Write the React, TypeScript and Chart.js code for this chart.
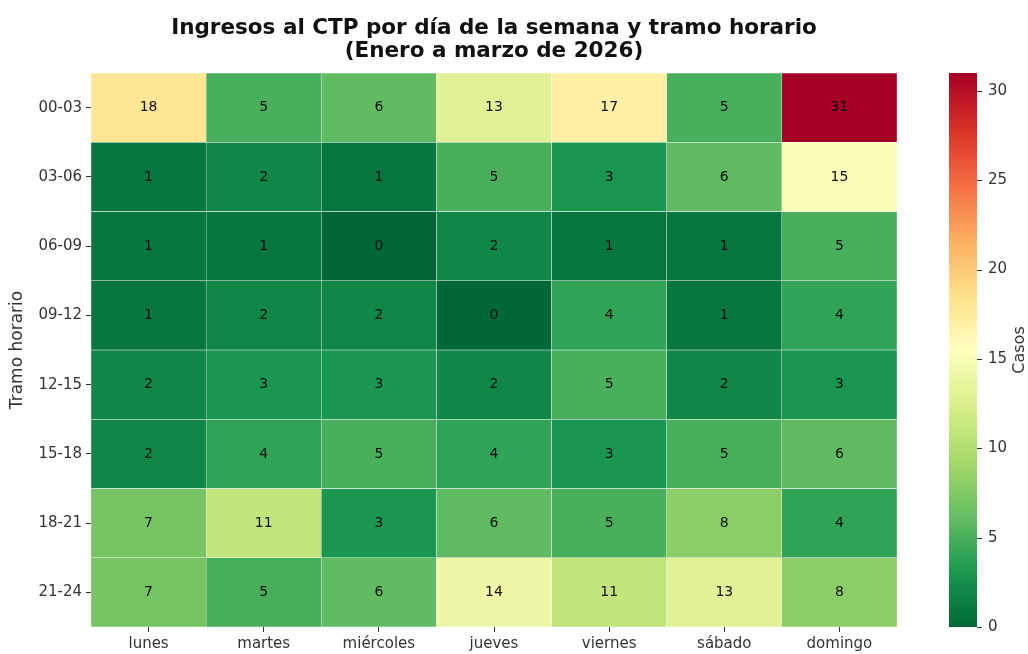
import React, { useEffect, useRef } from "react";
import { Chart, registerables } from "chart.js";

Chart.register(...registerables);

// ---- Data ----
const days = ["lunes", "martes", "miércoles", "jueves", "viernes", "sábado", "domingo"];
const slots = ["00-03", "03-06", "06-09", "09-12", "12-15", "15-18", "18-21", "21-24"];

const row0003 = [18, 5, 6, 13, 17, 5, 31];
const row0306 = [1, 2, 1, 5, 3, 6, 15];
const row0609 = [1, 1, 0, 2, 1, 1, 5];
const row0912 = [1, 2, 2, 0, 4, 1, 4];
const row1215 = [2, 3, 3, 2, 5, 2, 3];
const row1518 = [2, 4, 5, 4, 3, 5, 6];
const row1821 = [7, 11, 3, 6, 5, 8, 4];
const row2124 = [7, 5, 6, 14, 11, 13, 8];
const values = [row0003, row0306, row0609, row0912, row1215, row1518, row1821, row2124];

const titleLines = ["Ingresos al CTP por día de la semana y tramo horario", "(Enero a marzo de 2026)"];
const yTitle = "Tramo horario";
const cbTitle = "Casos";
const cbMin = 0;
const cbMax = 31;
const cbTicks = [0, 5, 10, 15, 20, 25, 30];

// RdYlGn reversed (low = green, high = red)
const palette = ["#006837", "#1a9850", "#66bd63", "#a6d96a", "#d9ef8b", "#ffffbf", "#fee08b", "#fdae61", "#f46d43", "#d73027", "#a50026"];

const FONT = '"DejaVu Sans", sans-serif';
const TXT = "#333333";

function hexToRgb(h: string) {
  const n = parseInt(h.slice(1), 16);
  return [(n >> 16) & 255, (n >> 8) & 255, n & 255];
}

function colorFor(v: number) {
  let t = (v - cbMin) / (cbMax - cbMin);
  t = Math.max(0, Math.min(1, t));
  const pos = t * (palette.length - 1);
  const i = Math.min(palette.length - 2, Math.floor(pos));
  const f = pos - i;
  const a = hexToRgb(palette[i]);
  const b = hexToRgb(palette[i + 1]);
  const c = a.map((x, k) => Math.round(x + (b[k] - x) * f));
  return `rgb(${c[0]},${c[1]},${c[2]})`;
}

const heatPlugin = {
  id: "heatExtras",
  afterDatasetsDraw(chart: any) {
    const ctx = chart.ctx;
    const xs = chart.scales.x;
    const ys = chart.scales.y;
    ctx.save();
    ctx.font = `14px ${FONT}`;
    ctx.textAlign = "center";
    ctx.textBaseline = "middle";
    ctx.fillStyle = "#111111";
    values.forEach((row, r) => {
      row.forEach((v, c) => {
        ctx.fillText(String(v), xs.getPixelForValue(c), ys.getPixelForValue(r + 0.5));
      });
    });
    ctx.restore();
  },
  afterDraw(chart: any) {
    const ctx = chart.ctx;
    const cb = chart.scales.cb;
    const area = chart.chartArea;
    const top = cb.getPixelForValue(cbMax);
    const bot = cb.getPixelForValue(cbMin);
    const left = cb.left + 52;
    const w = 28;
    ctx.save();
    const g = ctx.createLinearGradient(0, bot, 0, top);
    palette.forEach((c, i) => g.addColorStop(i / (palette.length - 1), c));
    ctx.fillStyle = g;
    ctx.fillRect(left, top, w, bot - top);
    // colorbar tick marks
    ctx.strokeStyle = TXT;
    ctx.lineWidth = 1;
    cb.ticks.forEach((t: any) => {
      const py = Math.round(cb.getPixelForValue(t.value)) + 0.5;
      ctx.beginPath();
      ctx.moveTo(left + w, py);
      ctx.lineTo(left + w + 5, py);
      ctx.stroke();
    });
    // colorbar label
    ctx.fillStyle = TXT;
    ctx.font = `16px ${FONT}`;
    ctx.textAlign = "center";
    ctx.textBaseline = "middle";
    ctx.translate(cb.left + 123, (top + bot) / 2);
    ctx.rotate(-Math.PI / 2);
    ctx.fillText(cbTitle, 0, 0);
    ctx.restore();

    // main title
    ctx.save();
    ctx.fillStyle = "#111111";
    ctx.font = `bold 21.5px ${FONT}`;
    ctx.textAlign = "center";
    ctx.textBaseline = "alphabetic";
    const cx = (area.left + area.right) / 2;
    ctx.fillText(titleLines[0], cx, 34);
    ctx.fillText(titleLines[1], cx, 57);
    ctx.restore();
  },
};

export default function App() {
  const ref = useRef<HTMLCanvasElement | null>(null);

  useEffect(() => {
    if (!ref.current) return;
    const chart = new Chart(ref.current, {
      type: "bar",
      data: {
        labels: days,
        datasets: slots.map((s, r) => ({
          label: s,
          data: days.map(() => [r, r + 1]),
          backgroundColor: values[r].map(colorFor),
          borderColor: "rgba(255,255,255,0.55)",
          borderWidth: 0.5,
          borderSkipped: false,
          grouped: false,
          barPercentage: 1,
          categoryPercentage: 1,
        })) as any,
      },
      options: {
        responsive: false,
        animation: false,
        events: [],
        layout: { padding: { top: 73, left: 0, right: 0, bottom: 0 } },
        plugins: {
          legend: { display: false },
          tooltip: { enabled: false },
          title: { display: false },
        },
        scales: {
          x: {
            type: "category",
            offset: true,
            grid: { display: true, drawOnChartArea: false, offset: false, tickLength: 5, color: TXT },
            border: { display: false },
            ticks: { font: { family: FONT, size: 15 }, color: TXT, padding: 3, maxRotation: 0, autoSkip: false },
            afterFit: (s: any) => {
              s.height = 27;
            },
          },
          y: {
            type: "linear",
            min: 0,
            max: 8,
            reverse: true,
            afterBuildTicks: (s: any) => {
              s.ticks = slots.map((_, i) => ({ value: i + 0.5 }));
            },
            ticks: {
              autoSkip: false,
              font: { family: FONT, size: 15 },
              color: TXT,
              padding: 4,
              callback: (v: any) => slots[Math.floor(Number(v))],
            },
            grid: { display: true, drawOnChartArea: false, tickLength: 5, color: TXT },
            border: { display: false },
            title: { display: true, text: yTitle, font: { family: FONT, size: 17 }, color: TXT, padding: { top: 7, bottom: 0 } },
            afterFit: (s: any) => {
              s.width = 91;
            },
          },
          cb: {
            type: "linear",
            position: "right",
            min: cbMin,
            max: cbMax,
            afterBuildTicks: (s: any) => {
              s.ticks = cbTicks.map((v) => ({ value: v }));
            },
            ticks: { font: { family: FONT, size: 15 }, color: TXT, padding: 5 },
            grid: { display: true, drawOnChartArea: false, drawTicks: true, tickLength: 86, color: "rgba(0,0,0,0)" },
            border: { display: false },
            afterFit: (s: any) => {
              s.width = 131;
            },
          },
        },
      } as any,
      plugins: [heatPlugin],
    });
    return () => chart.destroy();
  }, []);

  return (
    <div style={{ position: "fixed", left: 0, top: 0, width: 1028, height: 654, background: "#ffffff" }}>
      <canvas ref={ref} width={1028} height={654} style={{ display: "block" }} />
    </div>
  );
}
